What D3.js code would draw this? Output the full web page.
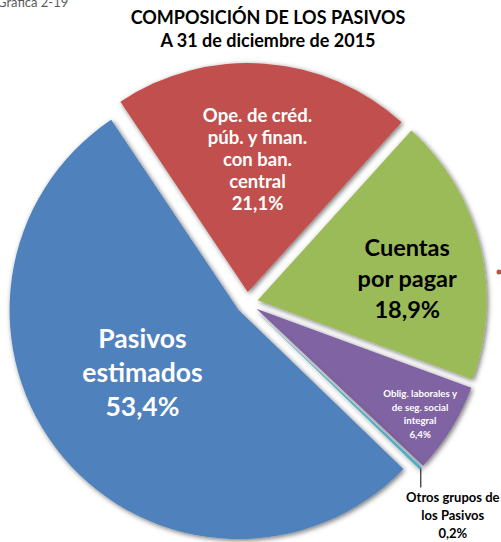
<!DOCTYPE html>
<html>
<head>
<meta charset="utf-8">
<script src="https://cdn.jsdelivr.net/npm/d3@7"></script>
<style>
  body { margin: 0; background: #fff; }
  svg { display: block; font-family: Lato, "Open Sans", sans-serif; }
</style>
</head>
<body>
<svg id="chart" width="501" height="542"></svg>
<script>
// pie data, in the order the slices are drawn (clockwise from the red one)
const categories = [
  "Ope. de créd. púb. y finan. con ban. central",
  "Cuentas por pagar",
  "Oblig. laborales y de seg. social integral",
  "Otros grupos de los Pasivos",
  "Pasivos estimados"
];
const values = [21.1, 18.9, 6.4, 0.2, 53.4];
const labelLines = [
  ["Ope. de créd.", "púb. y finan.", "con ban.", "central"],
  ["Cuentas", "por pagar"],
  ["Oblig. laborales y", "de seg. social", "integral"],
  ["Otros grupos de", "los Pasivos"],
  ["Pasivos", "estimados"]
];
const colors = ["#C0504D", "#9BBB59", "#8064A2", "#4BACC6", "#4F81BD"];
const titleLines = ["COMPOSICIÓN DE LOS PASIVOS", "A 31 de diciembre de 2015"];

const svg = d3.select("#chart");
const cx = 247, cy = 303;
const radius = 229;
const explode = 11;
const deg = Math.PI / 180;

// label look, one per slice
const labelStyle = [
  { size: 18.5, lh: 22, fill: "#fff", frac: 0.58, turn: 0 },
  { size: 23.5, lh: 31, fill: "#000", frac: 0.66, turn: 5.5 },
  { size: 9.7, lh: 13.5, fill: "#fff", frac: 0.85, turn: 1 },
  { size: 13, lh: 18, fill: "#000", frac: 0, turn: 0 },
  { size: 26.5, lh: 34, fill: "#fff", frac: 0.5, turn: 7 }
];

const locale = d3.formatLocale({ decimal: ",", thousands: ".", grouping: [3], currency: ["", ""] });
const pct = v => locale.format(".1f")(v) + "%";

const defs = svg.append("defs");
const shadow = defs.append("filter").attr("id", "shadow")
  .attr("x", "-20%").attr("y", "-20%").attr("width", "140%").attr("height", "140%");
shadow.append("feDropShadow")
  .attr("dx", 1.5).attr("dy", 1.5).attr("stdDeviation", 2.5)
  .attr("flood-color", "#000").attr("flood-opacity", 0.55);

// caption in the corner, cut by the page edge (as in the original)
svg.append("text")
  .attr("x", -3).attr("y", 7)
  .attr("font-size", 13).attr("fill", "#595959")
  .text("Gráfica 2-19");

svg.append("g").selectAll("text").data(titleLines).join("text")
  .attr("x", 268).attr("y", (d, i) => 24 + i * 23)
  .attr("text-anchor", "middle")
  .attr("font-size", 18).attr("font-weight", "bold")
  .text(d => d);

const pie = d3.pie().sort(null)
  .startAngle(-33.8 * deg).endAngle(-33.8 * deg + 2 * Math.PI);
const arcs = pie(values);
const arc = d3.arc().innerRadius(0).outerRadius(radius);

// each slice pushed out along its middle angle
function offset(d) {
  const a = (d.startAngle + d.endAngle) / 2;
  return [cx + explode * Math.sin(a), cy - explode * Math.cos(a)];
}

svg.append("g").selectAll("path").data(arcs).join("path")
  .attr("transform", d => `translate(${offset(d)})`)
  .attr("d", arc)
  .attr("fill", (d, i) => colors[i])
  .attr("filter", "url(#shadow)");

// labels inside the slices
arcs.forEach((d, i) => {
  const st = labelStyle[i];
  const lines = labelLines[i].concat([pct(values[i])]);
  let x, y;
  if (i === 3) {
    // small slice: label outside with a leader line
    const [ox, oy] = offset(d);
    const ex = ox + radius * Math.sin((d.startAngle + d.endAngle) / 2);
    const ey = oy - radius * Math.cos((d.startAngle + d.endAngle) / 2);
    svg.append("line")
      .attr("x1", ex).attr("y1", ey).attr("x2", ex).attr("y2", ey + 19)
      .attr("stroke", "#000").attr("stroke-width", 1);
    x = ex + 32; y = ey + 33;
    svg.append("g").selectAll("text").data(lines).join("text")
      .attr("x", x).attr("y", (t, j) => y + j * st.lh)
      .attr("text-anchor", "middle")
      .attr("font-size", st.size).attr("font-weight", "bold").attr("fill", st.fill)
      .text(t => t);
    return;
  }
  const a = (d.startAngle + d.endAngle) / 2 + st.turn * deg;
  const [ox, oy] = offset(d);
  x = ox + st.frac * radius * Math.sin(a);
  y = oy - st.frac * radius * Math.cos(a);
  const capH = st.size * 0.72;
  const top = y - ((lines.length - 1) * st.lh + capH) / 2 + capH;
  svg.append("g").selectAll("text").data(lines).join("text")
    .attr("x", x).attr("y", (t, j) => top + j * st.lh)
    .attr("text-anchor", "middle")
    .attr("font-size", st.size).attr("font-weight", "bold").attr("fill", st.fill)
    .text(t => t);
});

// little red mark at the right edge
svg.append("circle").attr("cx", 499).attr("cy", 272).attr("r", 2.5).attr("fill", "#C0504D");
</script>
</body>
</html>
